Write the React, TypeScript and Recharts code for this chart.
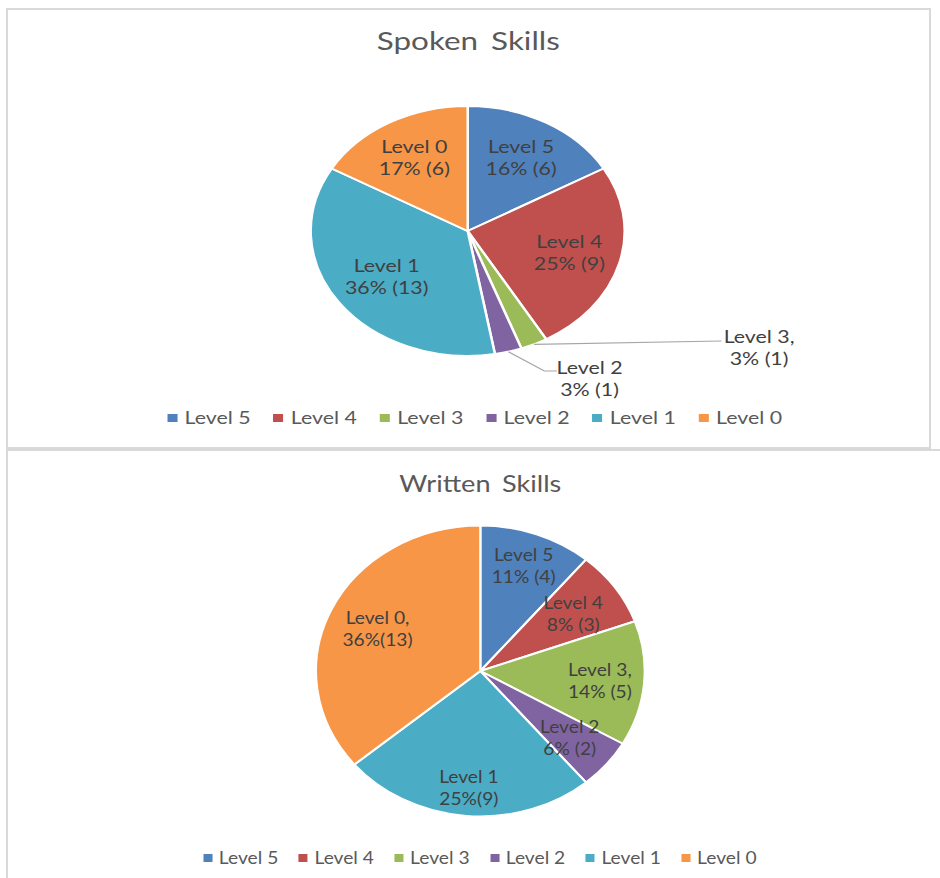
import { PieChart, Pie, Cell, Legend } from 'recharts';

const levels = ['Level 5', 'Level 4', 'Level 3', 'Level 2', 'Level 1', 'Level 0'];
const colors = ['#4F81BD', '#C0504D', '#9BBB59', '#8064A2', '#4BACC6', '#F79646'];

const spokenCounts = [6, 9, 1, 1, 13, 6];
const spokenNames = ['Level 5', 'Level 4', 'Level 3,', 'Level 2', 'Level 1', 'Level 0'];
const spokenShares = ['16% (6)', '25% (9)', '3% (1)', '3% (1)', '36% (13)', '17% (6)'];

const writtenCounts = [4, 3, 5, 2, 9, 13];
const writtenNames = ['Level 5', 'Level 4', 'Level 3,', 'Level 2', 'Level 1', 'Level 0,'];
const writtenShares = ['11% (4)', '8% (3)', '14% (5)', '6% (2)', '25%(9)', '36%(13)'];

const RAD = Math.PI / 180;

type Outside = { path: [number, number][]; tx: number; ty: number };

interface SkillPieProps {
  title: string;
  counts: number[];
  names: string[];
  shares: string[];
  scaleX: number;
  width: number;
  height: number;
  cx: number;
  cy: number;
  r: number;
  titleTop: number;
  titleSize: number;
  legendY: number;
  labelRadius: number[];
  outside: Record<number, Outside>;
}

function SkillPie(p: SkillPieProps) {
  const data = levels.map((name, i) => ({ name, value: p.counts[i] }));

  const renderLabel = (props: any) => {
    const { cx, cy, midAngle, outerRadius, index } = props;
    const cos = Math.cos(-midAngle * RAD);
    const sin = Math.sin(-midAngle * RAD);
    const textStyle = { fontSize: 17, fill: '#404040', fontFamily: 'Lato, sans-serif' };
    const o = p.outside[index];
    if (o) {
      const pts = [[cx + outerRadius * cos, cy + outerRadius * sin], ...o.path.map(([dx, dy]) => [cx + dx, cy + dy])];
      return (
        <g>
          <polyline points={pts.map((q) => q.join(',')).join(' ')} fill="none" stroke="#a6a6a6" strokeWidth={1.2} />
          <text x={cx + o.tx} y={cy + o.ty} textAnchor="middle" dominantBaseline="central" style={textStyle}>{p.names[index]}</text>
          <text x={cx + o.tx} y={cy + o.ty + 22} textAnchor="middle" dominantBaseline="central" style={textStyle}>{p.shares[index]}</text>
        </g>
      );
    }
    const rr = outerRadius * p.labelRadius[index];
    const x = cx + rr * cos;
    const y = cy + rr * sin;
    return (
      <g>
        <text x={x} y={y - 11} textAnchor="middle" dominantBaseline="central" style={textStyle}>{p.names[index]}</text>
        <text x={x} y={y + 11} textAnchor="middle" dominantBaseline="central" style={textStyle}>{p.shares[index]}</text>
      </g>
    );
  };

  // legend in the same order as the data (level 5 first)
  const renderLegend = () => (
    <div style={{ display: 'flex', justifyContent: 'center', gap: 18, paddingLeft: 10, fontFamily: 'Lato, sans-serif', fontSize: 17, color: '#595959', lineHeight: '20px' }}>
      {levels.map((name, i) => (
        <div key={name} style={{ display: 'flex', alignItems: 'center' }}>
          <span style={{ width: 8, height: 8, background: colors[i], marginRight: 6, display: 'inline-block' }} />
          <span>{name}</span>
        </div>
      ))}
    </div>
  );

  return (
    <div style={{ position: 'relative', width: p.width, height: p.height, transform: `scaleX(${p.scaleX})`, transformOrigin: '0 0' }}>
      <div style={{ position: 'absolute', left: 0, width: p.width, top: p.titleTop, textAlign: 'center', paddingLeft: 2 * p.cx - p.width, boxSizing: 'border-box', fontFamily: 'Lato, sans-serif', fontSize: p.titleSize, lineHeight: 1, color: '#595959', wordSpacing: 4 }}>
        {p.title}
      </div>
      <PieChart width={p.width} height={p.height} margin={{ top: 0, right: 0, bottom: 0, left: 0 }}>
        <Pie
          data={data}
          dataKey="value"
          nameKey="name"
          cx={p.cx}
          cy={p.cy}
          outerRadius={p.r}
          startAngle={90}
          endAngle={-270}
          stroke="#ffffff"
          strokeWidth={2}
          label={renderLabel}
          labelLine={false}
          isAnimationActive={false}
        >
          {data.map((d, i) => (
            <Cell key={d.name} fill={colors[i]} />
          ))}
        </Pie>
        <Legend content={renderLegend} wrapperStyle={{ top: p.legendY - 10, left: 0, width: p.width, height: 20 }} />
      </PieChart>
    </div>
  );
}

export default function App() {
  return (
    <div style={{ position: 'fixed', left: 0, top: 0, width: 940, height: 878, overflow: 'hidden', background: '#ffffff' }}>
      <div style={{ position: 'absolute', left: 6, top: 8, width: 925, height: 441, border: '2px solid #d9d9d9', boxSizing: 'border-box', overflow: 'hidden' }}>
        <SkillPie
          title="Spoken Skills"
          counts={spokenCounts}
          names={spokenNames}
          shares={spokenShares}
          scaleX={1.256}
          width={733}
          height={437}
          cx={366}
          cy={221}
          r={125}
          titleTop={18}
          titleSize={25}
          legendY={408}
          labelRadius={[0.68, 0.67, 0.7, 0.7, 0.63, 0.68]}
          outside={{
            2: { path: [[202, 110]], tx: 232, ty: 105 },
            3: { path: [[61, 140], [71, 140]], tx: 97, ty: 136 },
          }}
        />
      </div>
      <div style={{ position: 'absolute', left: 6, top: 449, width: 940, height: 440, borderLeft: '2px solid #d9d9d9', borderTop: '2px solid #d9d9d9', boxSizing: 'border-box', overflow: 'hidden' }}>
        <SkillPie
          title="Written Skills"
          counts={writtenCounts}
          names={writtenNames}
          shares={writtenShares}
          scaleX={1.13}
          width={825}
          height={427}
          cx={418}
          cy={220}
          r={145.5}
          titleTop={20}
          titleSize={24}
          legendY={407}
          labelRadius={[0.77, 0.69, 0.73, 0.71, 0.8, 0.69]}
          outside={{}}
        />
      </div>
    </div>
  );
}
